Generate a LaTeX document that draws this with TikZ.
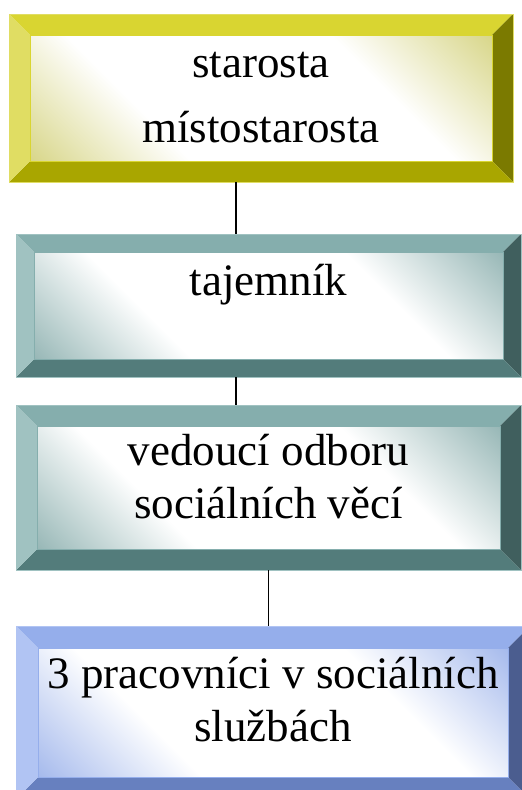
\documentclass[tikz,border=0pt]{standalone}
\usepackage{fontspec}
\setmainfont{Liberation Serif}
\usetikzlibrary{calc}

% bevel colours
\definecolor{olivetop}{HTML}{D9D531}
\definecolor{oliveleft}{HTML}{E0DD63}
\definecolor{olivebottom}{HTML}{A9A600}
\definecolor{oliveright}{HTML}{7B7A00}
\definecolor{olivein}{HTML}{D3D17A}
\definecolor{tealtop}{HTML}{85AEAD}
\definecolor{tealleft}{HTML}{A0C2C1}
\definecolor{tealbottom}{HTML}{537C7B}
\definecolor{tealright}{HTML}{405F5E}
\definecolor{tealin}{HTML}{8AAEAD}
\definecolor{bluetop}{HTML}{95AEEB}
\definecolor{blueleft}{HTML}{B1C4F3}
\definecolor{bluebottom}{HTML}{6780BF}
\definecolor{blueright}{HTML}{4B5D8F}
\definecolor{bluein}{HTML}{9AB1EA}

\colorlet{bevelc}{white}
\pgfdeclareverticalshading[bevelc]{bevelshade}{100bp}{color(0bp)=(bevelc); color(12bp)=(bevelc); color(34bp)=(white); color(66bp)=(white); color(88bp)=(bevelc); color(100bp)=(bevelc)}

\begin{document}
\begin{tikzpicture}[
		x=1pt, y=-1pt,
		box/.style={inner sep=0pt, outer sep=0pt, align=center, font=\fontsize{45pt}{53pt}\selectfont},
		bevel/.style 2 args={draw=#1left, line width=0.6pt,
			path picture={
				\path (path picture bounding box.north west) coordinate (o1) ++(#2,-#2) coordinate (i1);
				\path (path picture bounding box.south east) coordinate (o3) ++(-#2,#2) coordinate (i3);
				\fill[#1top] (o1) -- (o3 |- o1) -- (i3 |- i1) -- (i1) -- cycle;
				\fill[#1right] (o3 |- o1) -- (o3) -- (i3) -- (i3 |- i1) -- cycle;
				\fill[#1bottom] (o3) -- (o1 |- o3) -- (i1 |- i3) -- (i3) -- cycle;
				\fill[#1left] (o1 |- o3) -- (o1) -- (i1) -- (i1 |- i3) -- cycle;
				\colorlet{bevelc}{#1in}
				\shade[shading=bevelshade, shading angle=-45] (i1) rectangle (i3);
				\draw[#1top, line width=0.5pt] (i1) rectangle (i3);
			}},
		link/.style={line width=1.2pt}
	]

		\useasboundingbox (0,0) rectangle (522,790);

		%boxes
		\node[box, bevel={olive}{21pt}, minimum width=504pt, minimum height=168pt] (starosta) at (261,98) {starosta\\[12pt]místostarosta};
		\node[box, bevel={teal}{18pt}, minimum width=505pt, minimum height=143pt, text height=31pt, text depth=52pt] (tajemnik) at (268.5,305.5) {tajemník};
		\node[box, bevel={teal}{21pt}, minimum width=505pt, minimum height=165pt, text depth=22pt] (vedouci) at (268.5,487.5) {vedoucí odboru\\sociálních věcí};
		\node[box, bevel={blue}{22pt}, minimum width=514pt, minimum height=173pt, text depth=27pt] (pracovnici) at (273,712.5) {3 pracovníci v sociálních\\službách};

		%links
		\coordinate (spine) at (236,0);
		\draw[link] (starosta.south -| spine) -- (tajemnik.north -| spine);
		\draw[link] (tajemnik.south -| spine) -- (vedouci.north -| spine);
		\draw[link] (vedouci.south) -- (pracovnici.north -| vedouci.south);
	\end{tikzpicture}
\end{document}
